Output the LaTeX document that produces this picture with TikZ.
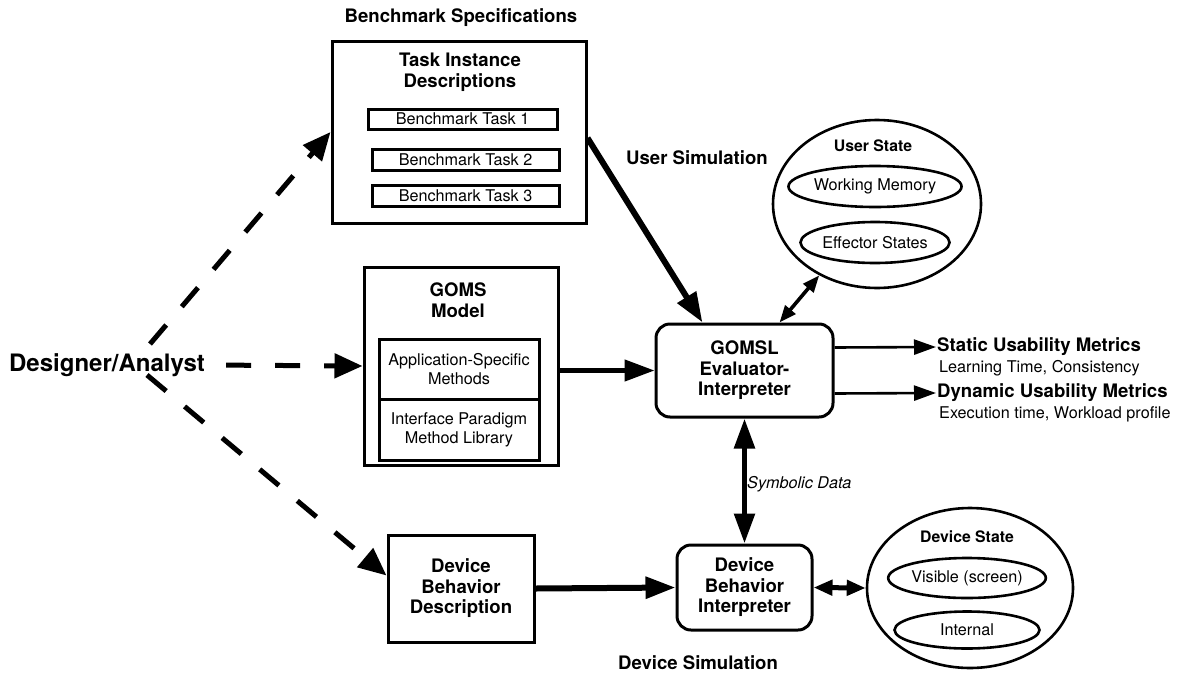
\documentclass[tikz,border=0pt]{standalone}
\usepackage{fontspec}
\setmainfont{TeX Gyre Heros}
\usetikzlibrary{arrows.meta,shapes.geometric,calc}

\newcommand\dgHead{\fontsize{18.6}{20.5}\selectfont\bfseries}
\newcommand\dgSmallHead{\fontsize{15.8}{18}\selectfont\bfseries}
\newcommand\dgBody{\fontsize{16.2}{19}\selectfont}

\begin{document}
\begin{tikzpicture}[x=1pt,y=1pt,yscale=-1,xscale=1,
  boxed/.style={draw,line width=3pt,inner sep=0pt},
  roundbox/.style={draw,line width=3pt,rounded corners=14pt,inner sep=0pt,align=center,font=\dgHead},
  oval/.style={draw,ellipse,line width=2.6pt,inner sep=0pt},
  label/.style={inner sep=1pt,align=center},
  bigtip/.style={-{Triangle[length=30pt,width=21pt]}},
  dashtip/.style={-{Triangle[length=28pt,width=24pt]},line width=5pt,dash pattern=on 25pt off 24pt},
  thinarrow/.style={-{Triangle[length=22pt,width=15pt]},line width=2.6pt}
]
\useasboundingbox (0,0) rectangle (1182,672);

%Benchmark specifications
\node [label,font=\dgHead] (spec) at (461,18) {Benchmark Specifications};
\node [boxed,minimum width=254pt,minimum height=182pt] (tasks) at (459,132) {};
\node [label,font=\dgHead] (tasktitle) at (460,72) {Task Instance\\Descriptions};
\node [boxed,minimum width=189pt,minimum height=20pt,font=\dgBody] (task1) at (462.5,119) {Benchmark Task 1};
\node [boxed,minimum width=187pt,minimum height=21pt,font=\dgBody] (task2) at (465.5,159.5) {Benchmark Task 2};
\node [boxed,minimum width=187pt,minimum height=21pt,font=\dgBody] (task3) at (465.5,195.5) {Benchmark Task 3};

%GOMS model
\node [boxed,minimum width=194pt,minimum height=198pt] (goms) at (461,366) {};
\node [label,font=\dgHead] (gomstitle) at (458,300) {GOMS\\Model};
\node [boxed,minimum width=160pt,minimum height=60pt,align=center,font=\dgBody] (appl) at (459,369) {Application-Specific\\Methods};
\node [boxed,minimum width=160pt,minimum height=61pt,align=center,font=\dgBody] (intf) at (459,429.5) {Interface Paradigm\\Method Library};

%Device description
\node [boxed,minimum width=146pt,minimum height=107pt,align=center,font=\dgHead] (devdesc) at (461,588.5) {Device\\Behavior\\Description};

%Interpreters
\node [roundbox,minimum width=177pt,minimum height=93pt] (gomsl) at (744.5,370.5) {GOMSL\\Evaluator-\\Interpreter};
\node [roundbox,minimum width=135pt,minimum height=85pt] (devint) at (744.5,587.5) {Device\\Behavior\\Interpreter};

%User state
\node [oval,minimum width=208pt,minimum height=168pt] (userstate) at (877,204) {};
\node [label,font=\dgSmallHead] (usertitle) at (873,146) {User State};
\node [oval,minimum width=146pt,minimum height=41pt,font=\dgBody] (wm) at (875,186.5) {Working Memory};
\node [oval,minimum width=146pt,minimum height=41pt,font=\dgBody] (eff) at (875,242.5) {Effector States};

%Device state
\node [oval,minimum width=206pt,minimum height=160pt] (devstate) at (970,588) {};
\node [label,font=\dgSmallHead] (devtitle) at (967,537) {Device State};
\node [oval,minimum width=145pt,minimum height=40pt,font=\dgBody] (vis) at (967,578) {Visible (screen)};
\node [oval,minimum width=145pt,minimum height=37pt,font=\dgBody] (intern) at (967,630) {Internal};

% Text Node
\node [label,font=\fontsize{24}{28}\selectfont\bfseries] (designer) at (107,365) {Designer/Analyst};
\node [label,font=\dgHead] (usersim) at (697,158) {User Simulation};
\node [label,font=\dgHead] (devsim) at (698,663) {Device Simulation};
\node [label,font=\dgHead,anchor=west] (static) at (936,347) {Static Usability Metrics};
\node [label,font=\dgBody,anchor=north west] (staticsub) at ($(static.south west)+(2,2)$) {Learning Time, Consistency};
\node [label,font=\dgHead,anchor=west] (dynamic) at (936,393) {Dynamic Usability Metrics};
\node [label,font=\dgBody,anchor=north west] (dynamicsub) at ($(dynamic.south west)+(2,2)$) {Execution time, Workload profile};
\node [label,font=\dgBody\itshape,anchor=west] (symb) at (746,484) {Symbolic Data};

%Designer connectors
\coordinate (dsgtop) at (150,344);
\coordinate (dsgbot) at (147,375);
\draw [dashtip] (dsgtop) -- (tasks.west);
\draw [dashtip,shorten <=20pt] (designer.east) -- (goms.west);
\draw [dashtip] (dsgbot) -- ($(devdesc.west)+(0,-13)$);

%Solid connectors
\draw [bigtip,line width=6pt] ($(tasks.east)+(0,6)$) -- ($(gomsl.north)+(-42,0)$);
\draw [bigtip,line width=4.5pt] (goms.east |- gomsl.west) -- (gomsl.west);
\draw [{Triangle[length=17pt,width=13pt]}-{Triangle[length=17pt,width=13pt]},line width=3.6pt] ($(gomsl.north)+(35,0)$) -- (userstate.231);
\draw [thinarrow] ($(gomsl.east)+(0,-23)$) -- (static.west);
\draw [thinarrow] ($(gomsl.east)+(0,23)$) -- (dynamic.west);
\draw [{Triangle[length=30pt,width=20pt]}-{Triangle[length=30pt,width=20pt]},line width=5.5pt] (gomsl.south) -- (devint.north);
\draw [bigtip,line width=6pt] (devdesc.east) -- (devint.west);
\draw [{Triangle[length=19pt,width=15pt]}-{Triangle[length=19pt,width=15pt]},line width=5pt] (devint.east) -- (devstate.west);

\end{tikzpicture}
\end{document}
